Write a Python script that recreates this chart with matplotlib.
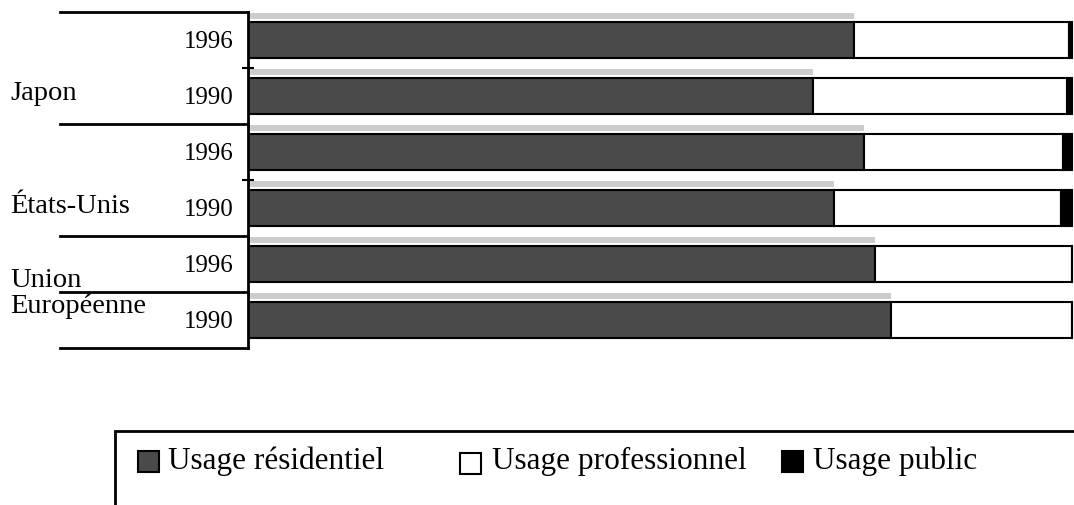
import matplotlib.pyplot as plt
import matplotlib.transforms as mtransforms
from matplotlib.patches import Rectangle

# données (en %), de haut en bas
pays = ["Japon", "États-Unis", "Union\nEuropéenne"]
annees = ["1996", "1990", "1996", "1990", "1996", "1990"]
residentiel = [73.6, 68.6, 74.8, 71.2, 76.1, 78.1]
public = [0.3, 0.6, 1.0, 1.3, 0.0, 0.0]
professionnel = [100 - r - p for r, p in zip(residentiel, public)]
legende = ["Usage résidentiel", "Usage professionnel", "Usage public"]

W, H = 1074, 506
plt.rcParams['font.family'] = ['Liberation Serif', 'DejaVu Serif']

fig = plt.figure(figsize=(W / 100, H / 100), dpi=100)
ax = fig.add_axes([248 / W, 1 - 349 / H, 826 / W, 336 / H])

c_res = '#4a4a4a'
ypos = list(range(len(annees)))

# bande grise au-dessus (effet 3D du scan)
ax.barh([y - 0.43 for y in ypos], residentiel, height=0.1, color='#cccccc', lw=0)
ax.barh(ypos, residentiel, height=0.66, color=c_res, edgecolor='black', lw=1.5)
ax.barh(ypos, professionnel, left=residentiel, height=0.66, color='white',
        edgecolor='black', lw=1.5)
left_pub = [r + p for r, p in zip(residentiel, professionnel)]
ax.barh(ypos, public, left=left_pub, height=0.66, color='black', edgecolor='black', lw=1.5)

ax.set_xlim(0, 100.3)
ax.set_ylim(5.5, -0.5)
for s in ['top', 'right', 'bottom']:
    ax.spines[s].set_visible(False)
ax.spines['left'].set_linewidth(2)
ax.set_xticks([])
ax.set_yticks([0.5, 2.5])
ax.set_yticklabels([])
ax.tick_params(axis='y', direction='inout', length=9, width=1.5)

trans = mtransforms.blended_transform_factory(ax.transAxes, ax.transData)

# lignes de séparation des groupes
for yb in [-0.5, 1.5, 3.5, 4.5, 5.5]:
    ax.plot([-0.228, 0], [yb, yb], color='black', lw=2, transform=trans, clip_on=False)

for y, a in zip(ypos, annees):
    ax.text(-0.018, y + 0.12, a, transform=trans, ha='right', va='baseline', fontsize=18)

ax.text(-0.288, 1.05, "Japon", transform=trans, ha='left', va='baseline', fontsize=20.5)
ax.text(-0.288, 3.07, "États-Unis", transform=trans, ha='left', va='baseline', fontsize=20.5)
ax.text(-0.288, 4.39, "Union", transform=trans, ha='left', va='baseline', fontsize=20.5)
ax.text(-0.288, 4.86, "Européenne", transform=trans, ha='left', va='baseline', fontsize=20.5)

# légende encadrée
def px(x, y):
    return x / W, 1 - y / H

fig.patches.append(Rectangle(px(115, 520), (1100 - 115) / W, (520 - 432) / H,
                             transform=fig.transFigure, fill=False, ec='black', lw=2))
carres = [(138, 473, c_res), (460, 475, 'white'), (782, 473, 'black')]
textes_x = [168, 492, 813]
for (cx, cy, col), tx, lab in zip(carres, textes_x, legende):
    fig.patches.append(Rectangle(px(cx, cy), 21 / W, 21 / H, transform=fig.transFigure,
                                 facecolor=col, ec='black', lw=1.5))
    fig.text(*px(tx, 469), lab, ha='left', va='baseline', fontsize=22.5)

fig.savefig('out.png', dpi=100)
